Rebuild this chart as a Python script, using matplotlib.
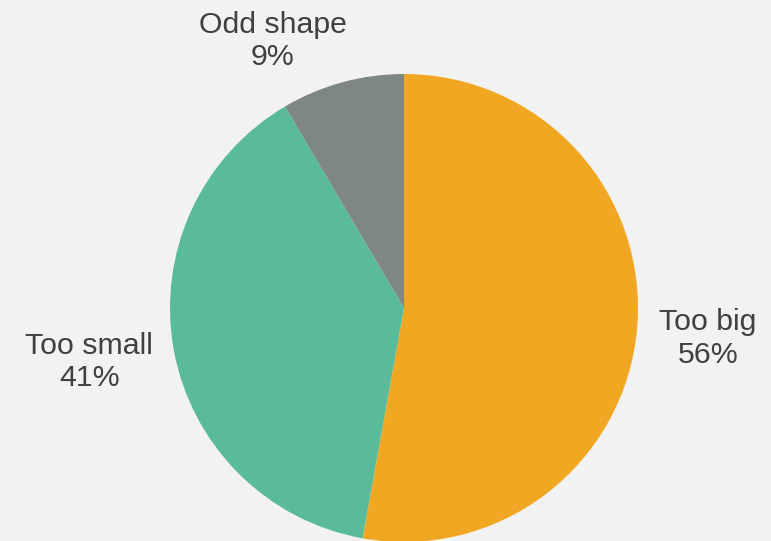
import matplotlib
matplotlib.use("Agg")
import matplotlib.pyplot as plt

categories = ["Too big", "Too small", "Odd shape"]
values = [56, 41, 9]
colors = ["#F0A823", "#59BB99", "#7F8783"]

plt.rcParams["font.family"] = ["Liberation Sans", "DejaVu Sans"]

W, H, DPI = 771, 541, 100
fig = plt.figure(figsize=(W / DPI, H / DPI), dpi=DPI, facecolor="#F2F2F2")
ax = fig.add_axes([0, 0, 1, 1])
ax.set_facecolor("#F2F2F2")

# pie centre and radius in pixels
cx, cy, r = 404, 308, 234

ax.pie(values, colors=colors, startangle=90, counterclock=False,
       radius=1.0, wedgeprops=dict(linewidth=0))

ax.set_xlim(-cx / r, (W - cx) / r)
ax.set_ylim(-(H - cy) / r, cy / r)
ax.set_aspect("auto")
ax.axis("off")

# label block centres (in pie-radius units)
label_pos = {
    "Too big": (1.298, -0.13),
    "Too small": (-1.345, -0.232),
    "Odd shape": (-0.562, 1.14),
}
for cat, val in zip(categories, values):
    x, y = label_pos[cat]
    ax.text(x, y, f"{cat}\n{val}%", ha="center", va="center",
            fontsize=21.8, color="#404040", linespacing=1.2)

fig.savefig("out.png", dpi=DPI, facecolor=fig.get_facecolor())
